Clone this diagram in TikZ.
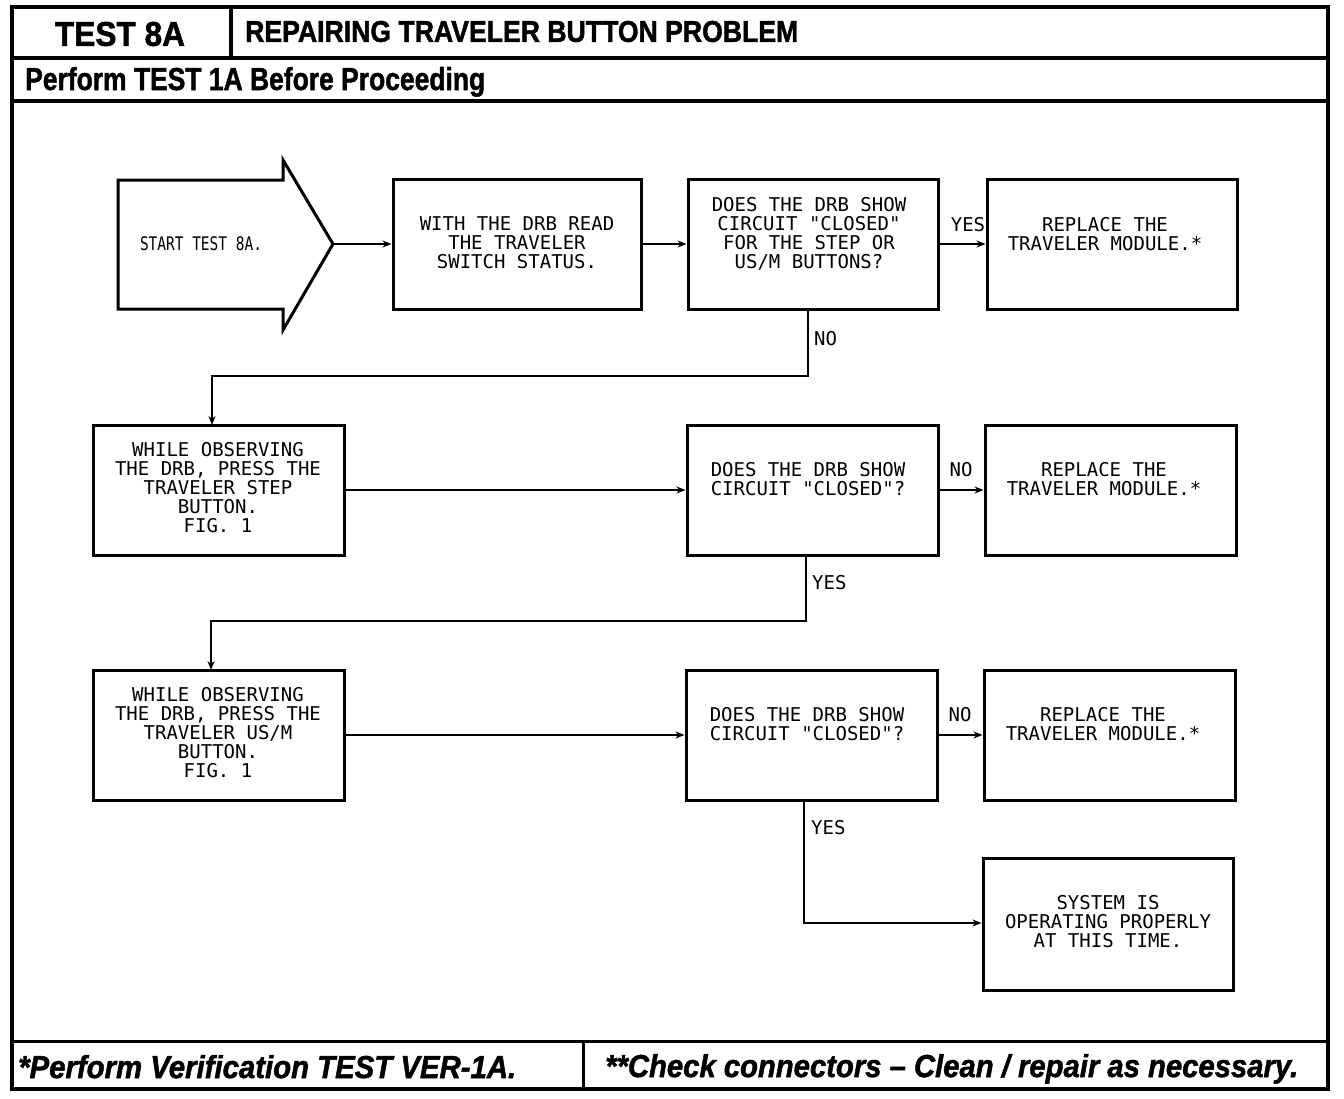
\documentclass[tikz,border=0pt]{standalone}
\usepackage{fontspec}
\setmainfont{Liberation Sans}
\newfontfamily\mono{DejaVu Sans Mono}
\newfontfamily\heavy[FakeBold=1.6]{Liberation Sans Bold}
\newfontfamily\heavyit[FakeBold=1.6]{Liberation Sans Bold Italic}
\usetikzlibrary{arrows.meta}
\tikzset{
  px/.style={x=1pt,y=-1pt},
  frame/.style={line width=4pt},
  rule/.style={line width=3.5pt},
  boxnode/.style={draw,line width=3pt,rectangle,inner sep=0pt,minimum width=#1,minimum height=130pt},
  boxnode/.default=250pt,
  txt/.style={font=\mono\fontsize{19}{19}\selectfont,align=center,inner sep=0pt},
  lbl/.style={font=\mono\fontsize{19}{19}\selectfont,inner sep=0pt},
  conn/.style={line width=2.5pt,-{Stealth[length=9pt,width=7pt]}},
  head/.style={inner sep=0pt}
}
\begin{document}
\begin{tikzpicture}[px]
\useasboundingbox (0,0) rectangle (1344,1098);
% frame and rules
\draw[frame] (12,7) rectangle (1328,1089);
\draw[rule] (12,58) -- (1328,58);
\draw[rule] (231,7) -- (231,58);
\draw[rule] (12,101) -- (1328,101);
\draw[line width=3pt] (12,1041) -- (1328,1041);
\draw[line width=3pt] (583,1041) -- (583,1089);
% header texts
\node[head] (h1) at (120,34) {\resizebox{130pt}{24pt}{\heavy TEST 8A}};
\node[head,anchor=west] (h2) at (245,31.5) {\resizebox{553pt}{21pt}{\heavy REPAIRING TRAVELER BUTTON PROBLEM}};
\node[head,anchor=base west] (h3) at (25,90) {\resizebox{460pt}{23pt}{\heavy Perform TEST 1A Before Proceeding}};
\node[head,anchor=base west] (f1) at (18,1078) {\resizebox{498pt}{23pt}{\heavyit *Perform Verification TEST VER-1A.}};
\node[head,anchor=base west] (f2) at (605,1077) {\resizebox{693pt}{23pt}{\heavyit **Check connectors – Clean / repair as necessary.}};
% start arrow
\draw[line width=3pt,line join=miter] (118,180) -- (283,180) -- (283,160) -- (333,244) -- (283,330) -- (283,309) -- (118,309) -- cycle;
\coordinate (start) at (333,244);
\node[txt] (tstart) at (201,244) {\resizebox{122pt}{13.9pt}{START TEST 8A.}};
% row 1
\node[boxnode=248pt] (b2) at (517,244.5) {};
\node[txt] (t2) at (517,243) {WITH THE DRB READ\\THE TRAVELER\\SWITCH STATUS.};
\node[boxnode] (b3) at (813,244.5) {};
\node[txt] (t3) at (809,234) {DOES THE DRB SHOW\\CIRCUIT "CLOSED"\\FOR THE STEP OR\\US/M BUTTONS?};
\node[boxnode] (b4) at (1112,244.5) {};
\node[txt] (t4) at (1105,234) {REPLACE THE\\TRAVELER MODULE.*};
% row 2
\node[boxnode=251pt] (b5) at (218.5,490) {};
\node[txt] (t5) at (218,488) {WHILE OBSERVING\\THE DRB, PRESS THE\\TRAVELER STEP\\BUTTON.\\FIG. 1};
\node[boxnode=251pt] (b6) at (812.5,490) {};
\node[txt] (t6) at (808,479) {DOES THE DRB SHOW\\CIRCUIT "CLOSED"?};
\node[boxnode=251pt] (b7) at (1110.5,490) {};
\node[txt] (t7) at (1104,479) {REPLACE THE\\TRAVELER MODULE.*};
% row 3
\node[boxnode=251pt] (b8) at (218.5,735) {};
\node[txt] (t8) at (218,733) {WHILE OBSERVING\\THE DRB, PRESS THE\\TRAVELER US/M\\BUTTON.\\FIG. 1};
\node[boxnode=251pt] (b9) at (811.5,735) {};
\node[txt] (t9) at (807,724) {DOES THE DRB SHOW\\CIRCUIT "CLOSED"?};
\node[boxnode=251pt] (b10) at (1109.5,735) {};
\node[txt] (t10) at (1103,724) {REPLACE THE\\TRAVELER MODULE.*};
\node[boxnode=250pt,minimum height=132pt] (b11) at (1108,924) {};
\node[txt] (t11) at (1108,922) {SYSTEM IS\\OPERATING PROPERLY\\AT THIS TIME.};
% connectors
\draw[conn] (start) -- (b2.west |- start);
\draw[conn] (b2.east |- start) -- (b3.west |- start);
\draw[conn] (b3.east |- start) -- (b4.west |- start);
\node[lbl] (l1) at (968,225) {YES};
\draw[conn] (808,309) -- (808,376) -- (212,376) -- (212,425);
\node[lbl,anchor=west] (l2) at (814,339) {NO};
\draw[conn] (b5.east) -- (b6.west);
\draw[conn] (b6.east) -- (b7.west);
\node[lbl] (l3) at (961,470) {NO};
\draw[conn] (806,555) -- (806,621) -- (211,621) -- (211,670);
\node[lbl,anchor=west] (l4) at (812,583) {YES};
\draw[conn] (b8.east) -- (b9.west);
\draw[conn] (b9.east) -- (b10.west);
\node[lbl] (l5) at (960,715) {NO};
\draw[conn] (804,800) -- (804,923) -- (b11.west |- 0,923);
\node[lbl,anchor=west] (l6) at (811,828) {YES};
\end{tikzpicture}
\end{document}
